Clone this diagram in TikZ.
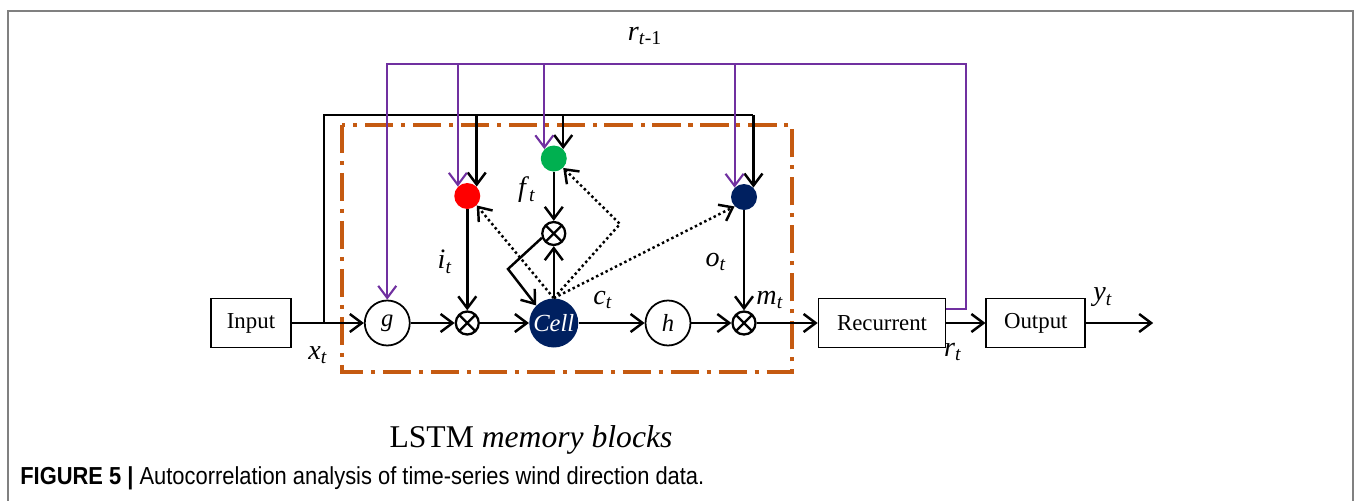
\documentclass[tikz,border=0pt]{standalone}
\usepackage{fontspec}
\setmainfont{Liberation Serif}
\newfontfamily\capfont[FakeStretch=0.89]{Liberation Sans}
\usepackage{tikz}
\usetikzlibrary{positioning,arrows.meta}
\definecolor{gatered}{RGB}{255,0,0}
\definecolor{gategreen}{RGB}{0,176,80}
\definecolor{navy}{RGB}{0,32,96}
\definecolor{loopviolet}{RGB}{112,48,160}
\definecolor{blockorange}{RGB}{197,90,17}
\newcommand{\sym}[2]{\textit{#1}\textsubscript{\textit{#2}}}

\begin{document}
\begin{tikzpicture}[
    node distance=1cm and 1cm,
    font=\fontsize{13}{15}\selectfont,
    box/.style={draw, line width=1pt, minimum width=1.6cm, minimum height=0.98cm, inner sep=0pt},
    unit/.style={draw, circle, line width=1pt, minimum size=0.9cm, inner sep=0pt, font=\fontsize{14}{16}\selectfont\itshape},
    mult/.style={draw, circle, line width=1.3pt, minimum size=0.46cm, inner sep=0pt,
      path picture={\draw[line width=1.3pt] (path picture bounding box.north west) -- (path picture bounding box.south east)
        (path picture bounding box.north east) -- (path picture bounding box.south west);}},
    gate/.style={circle, minimum size=0.52cm, inner sep=0pt},
    lbl/.style={font=\fontsize{16}{18}\selectfont},
    line/.style={line width=1.4pt},
    arrow/.style={-{Straight Barb[length=2.4mm,width=3.6mm]}, line width=1.4pt},
    parrow/.style={arrow, loopviolet, line width=1.2pt},
    dotarrow/.style={arrow, line width=1.4pt, dash pattern=on 1.4pt off 1.6pt},
    block/.style={blockorange, line width=1.8pt, dash pattern=on 16pt off 4.5pt on 2.3pt off 4.5pt}
  ]
    \useasboundingbox (0,0) rectangle (27.18,-10.02);
    \draw[gray, line width=1pt] (0.16,-10.02) |- (27.06,-0.22) -- (27.06,-10.02);

    % main line
    \node[box] (input) at (5.02,-6.46) {Input};
    \node[unit, right=1.44cm of input] (g) {g};
    \node[mult, right=0.88cm of g] (xi) {};
    \node[circle, fill=navy, minimum size=0.98cm, inner sep=0pt, text=white, font=\fontsize{14}{16}\selectfont\itshape, right=0.98cm of xi] (cell) {Cell};
    \node[unit, right=1.32cm of cell] (h) {h};
    \node[mult, right=0.8cm of h] (xo) {};
    \node[box, minimum width=2.54cm, right=1.22cm of xo] (rec) {Recurrent};
    \node[box, minimum width=1.98cm, right=0.78cm of rec] (out) {Output};
    \coordinate[right=1.34cm of out] (yend);

    % gates
    \node[mult, above=1.04cm of cell] (xf) {};
    \node[gate, fill=gategreen, above=0.98cm of xf] (fg) {};
    \node[gate, fill=gatered, above=2.02cm of xi] (ig) {};
    \node[gate, fill=navy, above=2.0cm of xo] (og) {};

    \coordinate[right=0.64cm of input] (split);
    \coordinate[above=4.16cm of split] (bus);
    \coordinate (loop) at (19.32,-1.28);
    \coordinate (bend) at (12.4,-4.48);
    \coordinate (kink) at (10.16,-5.38);

    % memory block
    \draw[block] (6.84,-2.5) rectangle (15.84,-7.44);

    \draw[arrow] (input) -- (g);
    \draw[arrow] (g) -- (xi);
    \draw[arrow] (xi) -- (cell);
    \draw[arrow] (cell) -- (h);
    \draw[arrow] (h) -- (xo);
    \draw[arrow] (xo) -- (rec);
    \draw[arrow] (rec) -- (out);
    \draw[arrow] (out) -- (yend);

    % input bus
    \draw[line] (split) -- (bus) -- (og.north east |- bus);
    \draw[arrow] (ig.north east |- bus) -- (ig.north east);
    \draw[arrow] (fg.north east |- bus) -- (fg.north east);
    \draw[arrow] (og.north east |- bus) -- (og.north east);

    % recurrent feedback
    \draw[parrow] ([yshift=0.28cm]rec.east) -| (loop) -| (g);
    \draw[parrow] (ig.north west |- loop) -- (ig.north west);
    \draw[parrow] (fg.north west |- loop) -- (fg.north west);
    \draw[parrow] (og.north west |- loop) -- (og.north west);

    \draw[arrow] (ig) -- (xi);
    \draw[arrow] (fg) -- (xf);
    \draw[arrow] (og) -- (xo);
    \draw[arrow] (cell) -- (xf);
    \draw[arrow] (xf.200) -- (kink) -- (cell.north west);

    % peepholes
    \draw[dotarrow] (cell.north) -- (ig.south east);
    \draw[dotarrow] (cell.north) -- (bend) -- (fg.south east);
    \draw[dotarrow] (cell.north) -- (og.south west);

    \node[lbl] (xt) at (6.36,-7.1) {\sym{x}{t}};
    \node[lbl] (it) at (8.9,-5.24) {\sym{i}{t}};
    \node[lbl] (ft) at (10.54,-3.8) {\sym{f}{t}};
    \node[lbl] (ot) at (14.32,-5.24) {\sym{o}{t}};
    \node[lbl] (ct) at (12.06,-6.0) {\sym{c}{t}};
    \node[lbl] (mt) at (15.4,-6.0) {\sym{m}{t}};
    \node[lbl] (rt) at (19.06,-7.04) {\sym{r}{t}};
    \node[lbl] (yt) at (22.06,-5.95) {\sym{y}{t}};
    \node[lbl] (rprev) at (12.9,-0.72) {\textit{r}\textsubscript{\textit{t}-1}};

    \node[font=\fontsize{18}{20}\selectfont] (title) at (10.62,-8.8) {LSTM \textit{memory blocks}};
    \node[anchor=west, inner sep=0pt, font=\capfont\fontsize{14}{16}\selectfont] (caption) at (0.4,-9.56)
      {\textbf{FIGURE 5 |} Autocorrelation analysis of time-series wind direction data.};
\end{tikzpicture}
\end{document}
